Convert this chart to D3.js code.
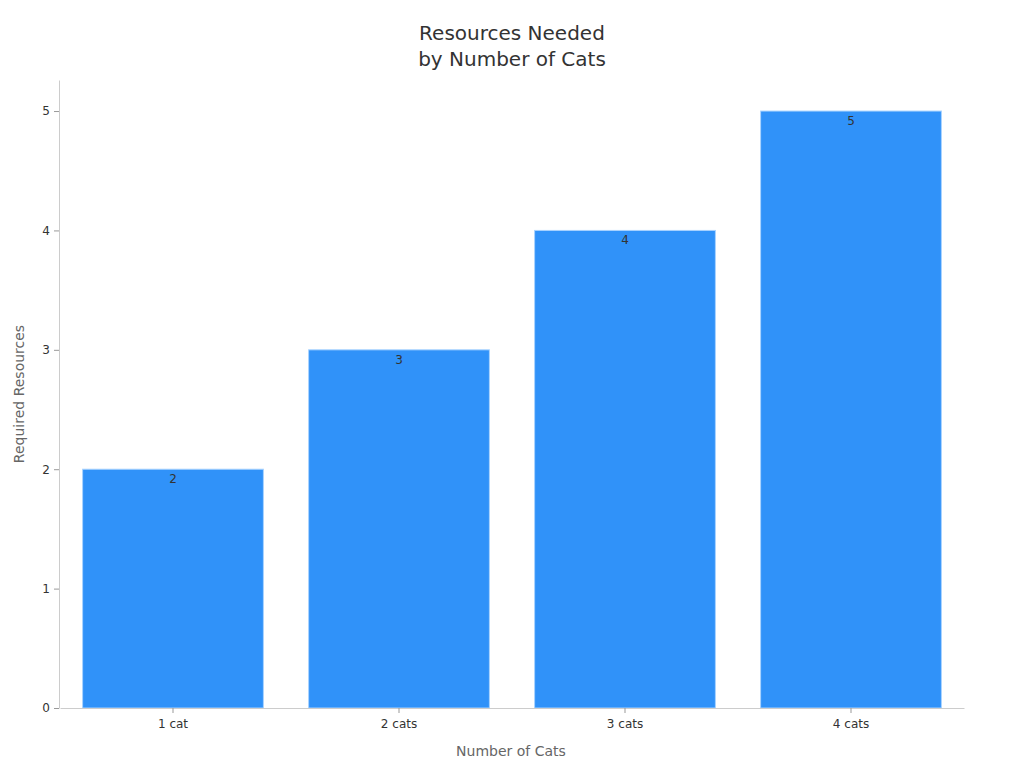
<!DOCTYPE html>
<html>
<head>
<meta charset="utf-8">
<script src="https://cdn.jsdelivr.net/npm/d3@7"></script>
<style>
  body { margin: 0; background: #fff; }
  text { font-family: "DejaVu Sans", sans-serif; }
</style>
</head>
<body>
<div id="chart"></div>
<script>
// chart data
var categories = ["1 cat", "2 cats", "3 cats", "4 cats"];
var resources = [2, 3, 4, 5];
var y_ticks = [0, 1, 2, 3, 4, 5];

var width = 1024, height = 768;
var margin = {top: 80, right: 61, bottom: 60, left: 59};

var svg = d3.select("#chart").append("svg")
   .attr("width", width)
   .attr("height", height);

var x = d3.scaleBand()
   .domain(categories)
   .range([margin.left + 1, width - margin.right + 1])
   .paddingInner(0.2)
   .paddingOuter(0.1);

var y = d3.scaleLinear()
   .domain([0, 5.26])
   .range([height - margin.bottom, margin.top]);

// title
svg.append("text")
   .attr("x", 512).attr("y", 40)
   .attr("text-anchor", "middle")
   .attr("font-size", 20)
   .style("fill", "#333")
   .text("Resources Needed");
svg.append("text")
   .attr("x", 512).attr("y", 66)
   .attr("text-anchor", "middle")
   .attr("font-size", 20)
   .style("fill", "#333")
   .text("by Number of Cats");

// bars
svg.selectAll("rect.bar")
   .data(resources)
   .enter().append("rect")
   .attr("class", "bar")
   .attr("x", function (d, i) { return x(categories[i]); })
   .attr("y", function (d) { return y(d); })
   .attr("width", x.bandwidth())
   .attr("height", function (d) { return y(0) - y(d); })
   .style("fill", "#3092f9")
   .style("stroke", "#a9d3ff")
   .style("stroke-width", 1);

// value labels
svg.selectAll("text.val")
   .data(resources)
   .enter().append("text")
   .attr("class", "val")
   .attr("x", function (d, i) { return x(categories[i]) + x.bandwidth() / 2; })
   .attr("y", function (d) { return y(d) + 14; })
   .attr("text-anchor", "middle")
   .attr("font-size", 12)
   .style("fill", "#333")
   .text(function (d) { return d; });

// axes
var xAxis = svg.append("g")
   .attr("transform", "translate(0," + y(0) + ")")
   .call(d3.axisBottom(x).tickSize(5).tickPadding(6).tickSizeOuter(0));
var yAxis = svg.append("g")
   .attr("transform", "translate(" + margin.left + ",0)")
   .call(d3.axisLeft(y).tickValues(y_ticks).tickFormat(d3.format("d"))
      .tickSize(5).tickPadding(4).tickSizeOuter(0));

[xAxis, yAxis].forEach(function (g) {
   g.select(".domain").style("stroke", "#ccc");
   g.selectAll(".tick line").style("stroke", "#999");
   g.selectAll(".tick text")
      .style("fill", "#333")
      .style("font-family", "DejaVu Sans, sans-serif")
      .attr("font-size", 12);
});

// axis titles
svg.append("text")
   .attr("x", (margin.left + width - margin.right) / 2)
   .attr("y", 756)
   .attr("text-anchor", "middle")
   .attr("font-size", 14)
   .style("fill", "#666")
   .text("Number of Cats");
svg.append("text")
   .attr("transform", "translate(24," + ((margin.top + height - margin.bottom) / 2) + ") rotate(-90)")
   .attr("text-anchor", "middle")
   .attr("font-size", 14)
   .style("fill", "#666")
   .text("Required Resources");
</script>
</body>
</html>
